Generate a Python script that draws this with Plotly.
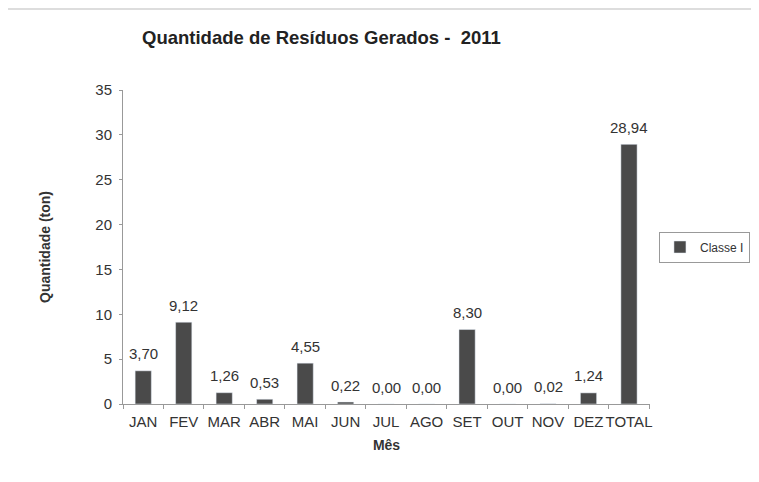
import plotly.graph_objects as go

meses = ["JAN", "FEV", "MAR", "ABR", "MAI", "JUN", "JUL", "AGO", "SET", "OUT", "NOV", "DEZ", "TOTAL"]
classe_i = [3.70, 9.12, 1.26, 0.53, 4.55, 0.22, 0.00, 0.00, 8.30, 0.00, 0.02, 1.24, 28.94]
y_ticks = [0, 5, 10, 15, 20, 25, 30, 35]

labels = [f"{v:.2f}".replace(".", ",") for v in classe_i]

font_family = "Liberation Sans, Arial, sans-serif"

W, H = 751, 474
L, R, T, B = 115, 109, 82, 78
pw, ph = W - L - R, H - T - B

fig = go.Figure()
fig.add_trace(go.Bar(
    x=meses, y=classe_i, name="Classe I",
    marker=dict(color="#4a4a4a"),
    width=0.4,
))
for m, v, t in zip(meses, classe_i, labels):
    fig.add_annotation(x=m, y=v, text=t, showarrow=False,
                       yanchor="middle", yshift=17,
                       font=dict(size=15, color="#333333", family=font_family))

fig.update_layout(
    width=W, height=H,
    margin=dict(l=L, r=R, t=T, b=B, autoexpand=False),
    paper_bgcolor="white", plot_bgcolor="white",
    font=dict(family=font_family, color="#333333", size=14),
    title=dict(text="<b>Quantidade de Resíduos Gerados -  2011</b>",
               x=134/W, xanchor="left", y=1-30/H, yanchor="middle",
               font=dict(size=18.5, color="#222222")),
    showlegend=True,
    legend=dict(x=1.017, xanchor="left", y=0.5, yanchor="middle",
                bordercolor="#999999", borderwidth=1,
                font=dict(size=12, color="#333333"),
                itemwidth=30, tracegroupgap=0),
    bargap=0.6,
)
fig.update_xaxes(
    showline=True, linecolor="#999999", linewidth=1,
    ticks="outside", tickson="boundaries", ticklen=4, tickcolor="#999999",
    tickangle=0, tickfont=dict(size=15), ticklabelstandoff=4,
    title=dict(text="<b>Mês</b>", font=dict(size=14), standoff=11),
)
fig.update_yaxes(
    range=[0, 35], tickvals=y_ticks,
    showline=True, linecolor="#999999", linewidth=1,
    ticks="outside", ticklen=3, tickcolor="#999999",
    showgrid=False, zeroline=False,
    tickfont=dict(size=15), ticklabelstandoff=4,
    title=dict(text="<b>Quantidade (ton)</b>", font=dict(size=14), standoff=41),
)
fig.add_shape(type="line", xref="paper", yref="paper",
              x0=-L/pw, x1=(W-L)/pw, y0=1+(T-1)/ph, y1=1+(T-1)/ph,
              line=dict(color="#bbbbbb", width=1))

fig.write_html("out.html")
